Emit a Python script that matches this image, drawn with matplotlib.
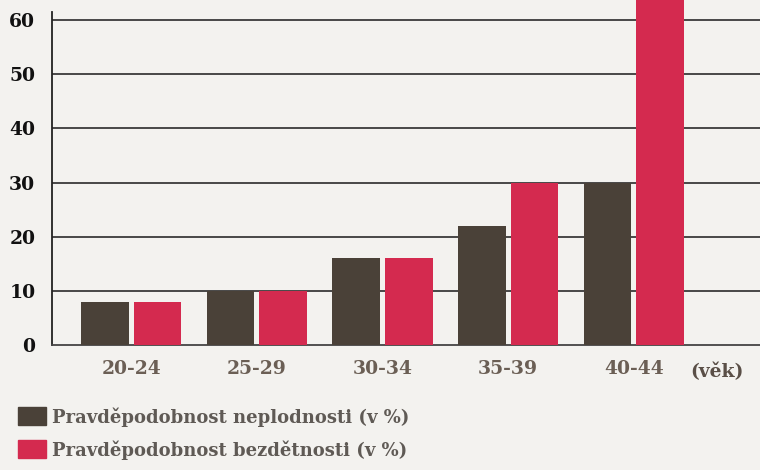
import numpy as np
import matplotlib.pyplot as plt
from matplotlib.patches import Rectangle

# data
ages = ['20-24', '25-29', '30-34', '35-39', '40-44']
neplodnost = [8, 10, 16, 22, 30]
bezdetnost = [8, 10, 16, 30, 64]
yticks = [0, 10, 20, 30, 40, 50, 60]

dark = '#4a4138'
red = '#d42a4f'
paper = '#f3f2ef'

fig = plt.figure(figsize=(7.6, 4.7), dpi=100, facecolor=paper)
ax = fig.add_axes([52 / 760, 125 / 470, 1.02 - 52 / 760, 345 / 470])
ax.set_facecolor(paper)

x = np.arange(len(ages))
w = 0.38
ax.bar(x - 0.21, neplodnost, w, color=dark, zorder=3)
ax.bar(x + 0.21, bezdetnost, w, color=red, zorder=3)

ax.set_xlim(-0.63, 5.125)
ax.set_ylim(0, 63.7)
ax.set_yticks(yticks)
ax.set_yticklabels([str(t) for t in yticks], fontfamily='DejaVu Serif',
                   fontweight='bold', fontsize=13.5, color='#111111')
ax.set_xticks(x)
ax.set_xticklabels(ages, fontfamily='DejaVu Serif', fontweight='bold',
                   fontsize=13.5, color='#6b5f55')
ax.tick_params(axis='y', length=0, pad=12)
ax.tick_params(axis='x', length=0, pad=11)
ax.text(4.45, -5.0, '(věk)', fontfamily='DejaVu Serif', fontweight='bold',
        fontsize=13.5, color='#5a4f47', ha='left', va='center')

for t in yticks[1:]:
    ax.axhline(t, color='#3a3a3a', lw=1.3, zorder=1)

for s in ['top', 'right']:
    ax.spines[s].set_visible(False)
ax.spines['left'].set_bounds(0, 61.5)
ax.spines['left'].set_color('#222222')
ax.spines['left'].set_linewidth(1.3)
ax.spines['bottom'].set_color('#444444')
ax.spines['bottom'].set_linewidth(1.3)

# legend
labels = ['Pravděpodobnost neplodnosti (v %)', 'Pravděpodobnost bezdětnosti (v %)']
for i, (lab, c) in enumerate(zip(labels, [dark, red])):
    y0 = 470 - 425 - i * 33
    fig.patches.append(Rectangle((18 / 760, y0 / 470), 28 / 760, 18 / 470,
                                 transform=fig.transFigure, color=c))
    fig.text(52 / 760, (y0 + 8) / 470, lab, fontfamily='DejaVu Serif',
             fontweight='bold', fontsize=13, color='#5f5a55', va='center')

fig.savefig('out.png', dpi=100, facecolor=paper)
